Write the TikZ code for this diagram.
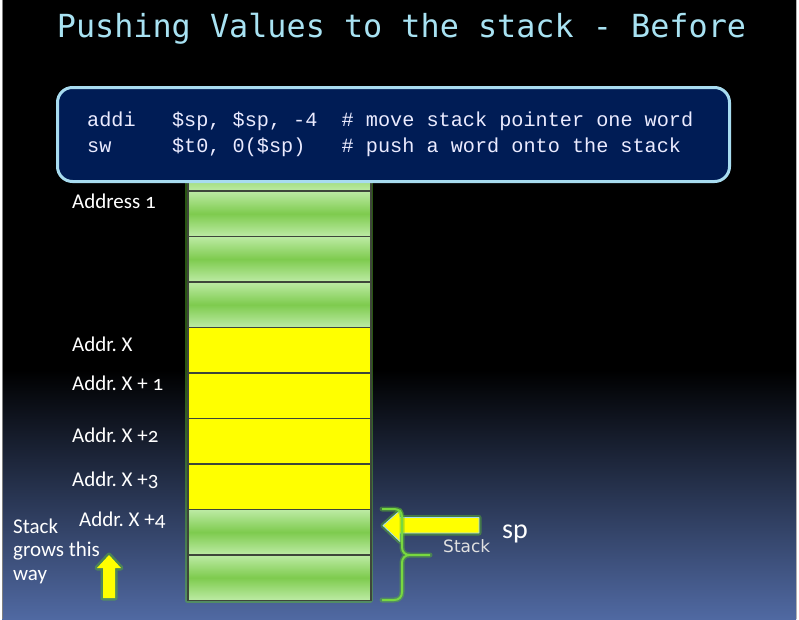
\documentclass[tikz,border=0pt]{standalone}
\usepackage{fontspec}
\setmainfont{Carlito}[Numbers=OldStyle]
\newfontfamily\titlefont{DejaVu Sans Mono}
\newfontfamily\codefont{Liberation Mono}
\newfontfamily\dvsans{DejaVu Sans}
\definecolor{titlecyan}{HTML}{A8E2F2}
\definecolor{navy}{HTML}{001C55}
\definecolor{boxedge}{HTML}{A8DCF0}
\definecolor{cellgreen}{HTML}{7ECB4E}
\definecolor{celllight}{HTML}{BDEBA5}
\definecolor{celledge}{HTML}{3E463A}
\definecolor{glowgreen}{HTML}{5CC02A}
\definecolor{bgblue}{HTML}{5069A2}
\definecolor{bracegreen}{HTML}{78D840}
\definecolor{pureyellow}{RGB}{255,255,0}
\frenchspacing
\tikzset{
 greencell/.style={draw=celledge, line width=1.8pt, top color=celllight, bottom color=celllight, middle color=cellgreen, minimum width=183pt, minimum height=45.5pt, inner sep=0pt, anchor=north west},
 yellowcell/.style={draw=celledge, line width=1.8pt, fill=pureyellow, minimum width=183pt, minimum height=45.5pt, inner sep=0pt, anchor=north west},
 addr/.style={anchor=base west, inner sep=0pt, text=white, font=\fontsize{21}{24}\selectfont},
 codeline/.style={anchor=base west, inner sep=0pt, text=white!92!blue, font=\codefont\fontsize{20.2}{25}\selectfont},
 glow/.style={draw=glowgreen, line width=5pt, opacity=0.45, line join=round, line cap=round},
 arrowfill/.style={fill=pureyellow, draw=boxedge, line width=0.8pt, line join=round},
}
\begin{document}
\begin{tikzpicture}[x=1pt,y=-1pt]
\useasboundingbox (0,0) rectangle (799,619);
% background
\fill[white] (0,0) rectangle (799,619);
\fill[black] (2,0) rectangle (796,619);
\shade[top color=black, bottom color=bgblue] (2,370) rectangle (796,619);
\draw[gray, line width=0.8pt] (2,0) -- (2,619);
\draw[gray!60, line width=0.8pt] (796,0) -- (796,619);
% title
\node[anchor=base, inner sep=0pt, text=titlecyan, font=\titlefont\fontsize{31.8}{36}\selectfont] (title) at (401.5,37) {Pushing Values to the stack - Before};
% stack column
\draw[glow] (187,144) rectangle (370,600);
\foreach \i/\s in {0/greencell,1/greencell,2/greencell,3/greencell,4/yellowcell,5/yellowcell,6/yellowcell,7/yellowcell,8/greencell,9/greencell}
  \node[\s] (cell\i) at (187,{144.5+45.5*\i}) {};
% code box
\node[draw=boxedge, line width=3pt, fill=navy, rounded corners=15pt, minimum width=672pt, minimum height=94pt, anchor=north west, inner sep=0pt] (codebox) at (56,86) {};
\node[codeline] (code1) at (87,126.7) {addi~~~\$sp,~\$sp,~-4~~\#~move~stack~pointer~one~word};
\node[codeline] (code2) at (87,152.3) {sw~~~~~\$t0,~0(\$sp)~~~\#~push~a~word~onto~the~stack};
% address labels
\node[addr] (a1) at (72,208.3) {Address 1};
\node[addr] (ax) at (72,351.7) {Addr. X};
\node[addr] (ax1) at (72,390.7) {Addr. X + 1};
\node[addr] (ax2) at (72,442) {Addr. X +2};
\node[addr] (ax3) at (72,486.7) {Addr. X +3};
\node[addr] (ax4) at (79,526.7) {Addr. X +4};
\node[addr] (sg1) at (13,533) {Stack};
\node[addr] (sg2) at (13,556.7) {grows this};
\node[addr] (sg3) at (13,580) {way};
% sp arrow
\draw[glow] (383,525.5) -- (400,510.5) -- (400,517.5) -- (479,517.5) -- (479,533) -- (400,533) -- (400,541.5) -- cycle;
\path[arrowfill] (383,525.5) -- (400,510.5) -- (400,517.5) -- (479,517.5) -- (479,533) -- (400,533) -- (400,541.5) -- cycle;
% up arrow
\draw[glow] (109,555) -- (121,568) -- (115,568) -- (115,598) -- (103,598) -- (103,568) -- (97,568) -- cycle;
\path[fill=pureyellow, line join=round] (109,555) -- (121,568) -- (115,568) -- (115,598) -- (103,598) -- (103,568) -- (97,568) -- cycle;
% brace
\draw[glow] (382,509) -- (394,509) .. controls (399,509) and (402,512) .. (402,517) -- (402,547) .. controls (402,552) and (405,555) .. (410,555) -- (430,555) (410,555) .. controls (405,555) and (402,558) .. (402,563) -- (402,592) .. controls (402,597) and (399,600) .. (394,600) -- (382,600);
\draw[bracegreen, line width=2pt, line join=round] (382,509) -- (394,509) .. controls (399,509) and (402,512) .. (402,517) -- (402,547) .. controls (402,552) and (405,555) .. (410,555) -- (430,555) (410,555) .. controls (405,555) and (402,558) .. (402,563) -- (402,592) .. controls (402,597) and (399,600) .. (394,600) -- (382,600);
% stack and sp labels
\node[anchor=base west, inner sep=0pt, text=white!88!black, font=\dvsans\fontsize{17}{20}\selectfont] (stacklbl) at (443,552.7) {Stack};
\node[anchor=base west, inner sep=0pt, text=white, font=\fontsize{28}{30}\selectfont] (splbl) at (502,538) {sp};
\end{tikzpicture}
\end{document}
